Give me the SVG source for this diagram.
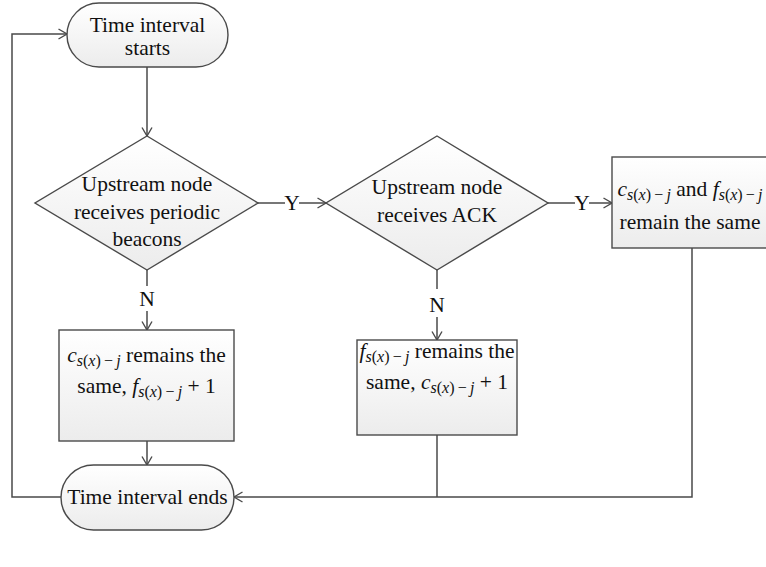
<svg xmlns="http://www.w3.org/2000/svg" width="766" height="567" viewBox="0 0 766 567">
<defs>
<linearGradient id="g" x1="0" y1="0" x2="0" y2="1">
<stop offset="0" stop-color="#ffffff"/>
<stop offset="1" stop-color="#ececec"/>
</linearGradient>
<marker id="ah" viewBox="0 0 10 12" refX="9.5" refY="6" markerWidth="10" markerHeight="12" markerUnits="userSpaceOnUse" orient="auto">
<path d="M1,1 L9.5,6 L1,11" fill="none" stroke="#4a4a4a" stroke-width="1.4"/>
</marker>
<style>
.shape { fill: url(#g); stroke: #4a4a4a; stroke-width: 1.4; }
.conn { fill: none; stroke: #4a4a4a; stroke-width: 1.5; }
.arr { marker-end: url(#ah); }
.t { font-family: 'Liberation Serif', 'DejaVu Serif', serif; font-size: 21.5px; fill: #111; }
.i { font-style: italic; }
.sub { font-size: 16px; }
</style>
</defs>
<rect width="766" height="567" fill="#ffffff"/>

<g id="connectors">
<path class="conn arr" d="M147,67 V136"/>
<path class="conn" d="M258,203 H285"/>
<path class="conn arr" d="M299,203 H326"/>
<path class="conn" d="M548,203 H575"/>
<path class="conn arr" d="M589,203 H612"/>
<path class="conn" d="M147,270 V286"/>
<path class="conn arr" d="M147,311 V330"/>
<path class="conn" d="M437,270 V289"/>
<path class="conn arr" d="M437,317 V340"/>
<path class="conn arr" d="M147,441 V465"/>
<path class="conn" d="M437,435 V497"/>
<path class="conn arr" d="M692,248 V497 H234"/>
<path class="conn arr" d="M61,497 H12 V34 H67"/>
<g class="t">
<text x="292" y="210" text-anchor="middle">Y</text>
<text x="582" y="210" text-anchor="middle">Y</text>
<text x="147" y="306" text-anchor="middle">N</text>
<text x="437" y="312" text-anchor="middle">N</text>
</g>
</g>

<g id="start" class="t">
<rect class="shape" x="67" y="3" width="161" height="64" rx="32" ry="32"/>
<text x="147.5" y="32" text-anchor="middle">Time interval</text>
<text x="147.5" y="55" text-anchor="middle">starts</text>
</g>

<g id="decision1" class="t">
<polygon class="shape" points="147,136 258,203 147,270 35,203"/>
<text x="147" y="191" text-anchor="middle">Upstream node</text>
<text x="147" y="219" text-anchor="middle">receives periodic</text>
<text x="147" y="246" text-anchor="middle">beacons</text>
</g>

<g id="decision2" class="t">
<polygon class="shape" points="437,136 548,203 437,270 326,203"/>
<text x="437" y="194" text-anchor="middle">Upstream node</text>
<text x="437" y="222" text-anchor="middle">receives ACK</text>
</g>

<g id="keep-both" class="t">
<rect class="shape" x="612" y="157" width="158" height="91"/>
<text x="690" y="196" text-anchor="middle"><tspan class="i">c</tspan><tspan class="sub" dy="4"><tspan class="i">s</tspan>(<tspan class="i">x</tspan>)&#8201;−&#8201;<tspan class="i">j</tspan></tspan><tspan dy="-4"> and </tspan><tspan class="i">f</tspan><tspan class="sub" dy="4"><tspan class="i">s</tspan>(<tspan class="i">x</tspan>)&#8201;−&#8201;<tspan class="i">j</tspan></tspan></text>
<text x="690" y="229" text-anchor="middle">remain the same</text>
</g>

<g id="box-f-plus" class="t">
<rect class="shape" x="59" y="330" width="175" height="111"/>
<text x="146.5" y="362" text-anchor="middle"><tspan class="i">c</tspan><tspan class="sub" dy="4"><tspan class="i">s</tspan>(<tspan class="i">x</tspan>)&#8201;−&#8201;<tspan class="i">j</tspan></tspan><tspan dy="-4"> remains the</tspan></text>
<text x="146.5" y="393" text-anchor="middle">same, <tspan class="i">f</tspan><tspan class="sub" dy="4"><tspan class="i">s</tspan>(<tspan class="i">x</tspan>)&#8201;−&#8201;<tspan class="i">j</tspan></tspan><tspan dy="-4"> + 1</tspan></text>
</g>

<g id="box-c-plus" class="t">
<rect class="shape" x="357" y="340" width="160" height="95"/>
<text x="437" y="358" text-anchor="middle"><tspan class="i">f</tspan><tspan class="sub" dy="4"><tspan class="i">s</tspan>(<tspan class="i">x</tspan>)&#8201;−&#8201;<tspan class="i">j</tspan></tspan><tspan dy="-4"> remains the</tspan></text>
<text x="437" y="389" text-anchor="middle">same, <tspan class="i">c</tspan><tspan class="sub" dy="4"><tspan class="i">s</tspan>(<tspan class="i">x</tspan>)&#8201;−&#8201;<tspan class="i">j</tspan></tspan><tspan dy="-4"> + 1</tspan></text>
</g>

<g id="end" class="t">
<rect class="shape" x="61" y="465" width="173" height="65" rx="32.5" ry="32.5"/>
<text x="147.5" y="504" text-anchor="middle">Time interval ends</text>
</g>
</svg>
